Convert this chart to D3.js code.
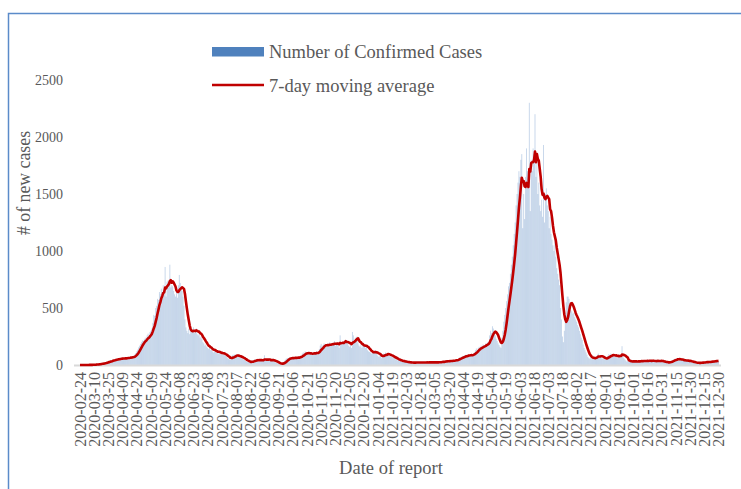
<!DOCTYPE html>
<html lang="en">
<head>
<meta charset="UTF-8">
<title>Confirmed cases</title>
<script src="https://d3js.org/d3.v7.min.js" charset="utf-8"></script>
<style>
    body { margin: 0; background: #fff; }
</style>
</head>
<body>
<script>
    // daily confirmed cases, one array per month
    var startDate = "2020-02-24";
    var cases2020Feb = [0,0,0,0,0,1];
    var cases2020Mar = [0,1,0,1,2,1,2,3,2,4, 5,4,8,6,10,12,9,15,14,18, 20,24,22,30,34,28,40,42,38,45,48];
    var cases2020Apr = [50,46,55,52,60,48,58,62,55,60, 58,64,52,66,70,62,68,72,66,70, 80,92,105,120,135,155,170,185,200,215];
    var cases2020May = [210,225,240,215,260,275,250,290,300,320, 370,440,430,500,520,580,570,640,620,670, 640,700,620,860,600,730,740,720,880,680,700];
    var cases2020Jun = [690,650,620,600,640,590,700,790,720,680, 650,600,520,400,330,300,280,320,270,300, 310,290,330,280,300,320,270,260,290,240];
    var cases2020Jul = [250,230,200,190,170,180,160,150,140,165, 130,140,120,110,135,125,105,115,100,120, 95,110,100,90,105,85,80,70,60,55,50];
    var cases2020Aug = [45,70,85,90,80,95,75,85,70,80, 65,70,60,55,50,45,35,30,25,30, 20,22,30,40,35,45,50,40,45,42,38];
    var cases2020Sep = [45,38,50,36,42,85,40,40,35,50, 45,42,38,50,40,35,30,20,18,15, 12,10,8,12,10,20,35,45,55,60];
    var cases2020Oct = [62,58,65,50,60,70,55,68,72,60, 65,70,60,75,85,100,110,95,120,105, 100,95,110,90,105,100,95,110,105,100,120];
    var cases2020Nov = [110,95,140,170,185,160,175,190,150,180, 175,190,160,200,185,170,195,180,210,170, 190,200,175,150,260,195,180,205,190,215];
    var cases2020Dec = [220,210,190,170,160,180,150,290,260,200, 240,210,250,190,170,160,180,150,190,170, 180,150,160,130,120,115,110,100,110,105,120];
    var cases2021Jan = [130,115,95,80,70,85,75,60,90,100, 95,110,85,105,90,80,75,70,85,65, 60,55,50,45,40,48,35,38,30,32,28];
    var cases2021Feb = [30,25,28,22,20,26,18,24,20,22, 18,25,20,22,26,19,24,21,23,20, 25,22,19,24,26,20,23,25];
    var cases2021Mar = [22,24,20,26,23,21,25,27,22,24, 28,26,30,33,29,35,32,36,31,38, 34,40,37,35,42,39,45,50,48,55,60];
    var cases2021Apr = [70,62,75,80,68,85,90,78,82,95, 88,80,92,85,100,110,130,145,125,150, 160,140,170,155,180,165,175,190,185,200];
    var cases2021May = [195,260,300,280,340,320,290,260,230,210, 190,175,160,150,240,300,380,440,500,560, 620,690,720,800,880,950,1050,1150,1250,1400,1500];
    var cases2021Jun = [1600,1700,1650,1800,1850,1200,1500,1280,1650,1900, 1700,1700,2300,1350,1800,1700,1900,1850,2200,1650, 1850,1500,1600,1400,1350,1450,1300,1930,1250,1500];
    var cases2021Jul = [1550,1400,1350,1200,1300,1150,1100,1050,1000,1100, 950,850,800,750,700,500,400,250,200,300, 450,550,600,600,580,520,480,470,450,460,420];
    var cases2021Aug = [400,380,350,330,300,270,240,220,180,150, 130,110,90,70,60,55,65,50,70,80, 45,60,75,90,100,70,85,60,55,65,50];
    var cases2021Sep = [60,45,70,80,95,85,100,75,90,80, 70,85,95,60,80,75,85,80,165,75, 60,50,40,30,35,25,30,40,28,32];
    var cases2021Oct = [35,30,28,40,25,32,38,30,35,42, 28,36,40,33,30,45,35,38,42,30, 36,40,35,28,33,38,42,30,36,34,40];
    var cases2021Nov = [30,25,22,20,18,25,22,28,30,35, 40,45,50,55,48,52,60,45,50,42, 40,45,38,35,42,36,40,33,30,35];
    var cases2021Dec = [28,25,22,18,20,15,22,18,20,16, 22,25,20,24,28,22,26,30,25,28, 30,32,28,35,38,30,36,40,35,38];

    var yTicks = [0, 500, 1000, 1500, 2000, 2500];
    var tickEvery = 15;
    var seriesNames = ["Number of Confirmed Cases", "7-day moving average"];

    var cases = [].concat(cases2020Feb, cases2020Mar, cases2020Apr, cases2020May, cases2020Jun,
        cases2020Jul, cases2020Aug, cases2020Sep, cases2020Oct, cases2020Nov, cases2020Dec,
        cases2021Jan, cases2021Feb, cases2021Mar, cases2021Apr, cases2021May, cases2021Jun,
        cases2021Jul, cases2021Aug, cases2021Sep, cases2021Oct, cases2021Nov, cases2021Dec);

    var parse = d3.timeParse("%Y-%m-%d"),
        fmt = d3.timeFormat("%Y-%m-%d");
    var start = parse(startDate);
    var dates = cases.map(function (c, i) { return fmt(d3.timeDay.offset(start, i)); });

    // trailing 7-day average
    var avg = cases.map(function (c, i) {
        return d3.mean(cases.slice(Math.max(0, i - 6), i + 1));
    });

    var serif = '"Liberation Serif", "Times New Roman", serif';
    var grey = "#595959";
    var W = 741, H = 489;
    var plot = {left: 79.5, right: 719, top: 80, bottom: 365};

    var svg = d3.select("body").append("svg")
        .attr("width", W)
        .attr("height", H)
        .style("font-family", serif);

    // outer frame
    svg.append("rect")
        .attr("x", 8.5).attr("y", 13.5)
        .attr("width", 800).attr("height", 600)
        .attr("fill", "none")
        .attr("stroke", "#5b8bc9")
        .attr("stroke-width", 1.5);

    var x = d3.scaleBand().domain(dates).range([plot.left, plot.right]).padding(0);
    var y = d3.scaleLinear().domain([0, 2500]).range([plot.bottom, plot.top]);
    var bw = x.bandwidth();

    // bars
    svg.append("g").selectAll("rect")
        .data(cases)
        .enter().append("rect")
        .attr("x", function (d, i) { return x(dates[i]); })
        .attr("width", bw)
        .attr("y", function (d) { return y(d); })
        .attr("height", function (d) { return y(0) - y(d); })
        .attr("fill", "#4f81bd")
        .attr("fill-opacity", 0.32);

    // category axis line
    svg.append("line")
        .attr("x1", 74).attr("x2", 721)
        .attr("y1", plot.bottom + 0.5).attr("y2", plot.bottom + 0.5)
        .attr("stroke", "#d9d9d9")
        .attr("stroke-width", 2);

    // moving average
    var line = d3.line()
        .x(function (d, i) { return x(dates[i]) + bw / 2; })
        .y(function (d) { return y(d); });

    svg.append("path")
        .datum(avg)
        .attr("d", line)
        .attr("fill", "none")
        .attr("stroke", "#c00000")
        .attr("stroke-width", 2.6)
        .attr("stroke-linejoin", "round");

    // y axis
    var yAxis = svg.append("g")
        .attr("transform", "translate(" + plot.left + ",0)")
        .call(d3.axisLeft(y).tickValues(yTicks).tickFormat(d3.format("d"))
            .tickSize(0).tickPadding(16.5));
    yAxis.attr("font-family", null).attr("font-size", null);
    yAxis.select(".domain").remove();
    yAxis.selectAll("text")
        .style("font-family", serif)
        .style("font-size", "14px")
        .attr("fill", grey);

    // x axis, every 15th day
    var xAxis = svg.append("g")
        .attr("transform", "translate(0," + plot.bottom + ")")
        .call(d3.axisBottom(x)
            .tickValues(dates.filter(function (d, i) { return i % tickEvery === 0; }))
            .tickSize(0));
    xAxis.attr("font-family", null).attr("font-size", null);
    xAxis.select(".domain").remove();
    xAxis.selectAll("text")
        .style("font-family", serif)
        .style("font-size", "16px")
        .attr("fill", grey)
        .attr("transform", "rotate(-90)")
        .attr("text-anchor", "end")
        .attr("x", -7)
        .attr("y", 0)
        .attr("dy", "0.35em");

    // axis titles
    svg.append("text")
        .attr("x", 391)
        .attr("y", 474)
        .attr("text-anchor", "middle")
        .attr("fill", grey)
        .style("font-size", "18.5px")
        .text("Date of report");

    svg.append("text")
        .attr("transform", "translate(30,183) rotate(-90)")
        .attr("text-anchor", "middle")
        .attr("fill", grey)
        .style("font-size", "17.8px")
        .text("# of new cases");

    // legend
    svg.append("rect")
        .attr("x", 212).attr("y", 47)
        .attr("width", 52).attr("height", 9.5)
        .attr("fill", "#4f81bd");
    svg.append("text")
        .attr("x", 269).attr("y", 57.5)
        .attr("fill", grey)
        .style("font-size", "18.5px")
        .text(seriesNames[0]);

    svg.append("line")
        .attr("x1", 212).attr("x2", 264)
        .attr("y1", 85).attr("y2", 85)
        .attr("stroke", "#c00000")
        .attr("stroke-width", 2.6);
    svg.append("text")
        .attr("x", 269).attr("y", 91.5)
        .attr("fill", grey)
        .style("font-size", "18.5px")
        .text(seriesNames[1]);
</script>
</body>
</html>
